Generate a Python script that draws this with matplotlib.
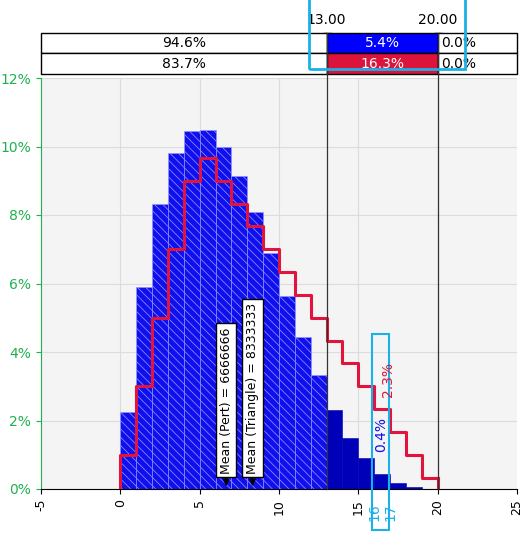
import matplotlib.pyplot as plt
import matplotlib.transforms as mtransforms
from matplotlib.patches import Rectangle

# histogram (Pert simulation), percent per unit bin, bins start at 0..19
bin_left = list(range(20))
pert_pct = [2.26, 5.89, 8.33, 9.81, 10.45, 10.48, 9.99, 9.15, 8.09, 6.88,
            5.64, 4.43, 3.32, 2.32, 1.50, 0.90, 0.44, 0.18, 0.05, 0.01]
# triangle distribution step line, percent per bin
tri_pct = [1.0, 3.0, 5.0, 7.0, 9.0, 9.67, 9.0, 8.33, 7.67, 7.0,
           6.33, 5.67, 5.0, 4.33, 3.67, 3.0, 2.33, 1.67, 1.0, 0.33]
lo_mark, hi_mark = 13, 20
pert_row = ["94.6%", "5.4%", "0.0%"]
tri_row = ["83.7%", "16.3%", "0.0%"]
mean_pert = 6.666666
mean_tri = 8.333333

plt.rcParams["hatch.linewidth"] = 0.5
fig = plt.figure(figsize=(5.29, 5.41), dpi=100)
ax = fig.add_axes([41 / 529, 52 / 541, 476 / 529, 411 / 541])
ax.set_facecolor("#f4f4f4")
ax.set_xlim(-5, 25)
ax.set_ylim(0, 12)

for x, h in zip(bin_left, pert_pct):
    if x < lo_mark:
        ax.bar(x, h, width=1, align="edge", color="#1010ee", edgecolor="#9a9aff",
               hatch="\\\\\\\\", linewidth=0.4, zorder=2)
    else:
        ax.bar(x, h, width=1, align="edge", color="#0000b8", edgecolor="#0000b8",
               linewidth=0.4, zorder=2)

xs = [bin_left[0]] + [b + 1 for b in bin_left]
ys = [0] + tri_pct
ax.step(xs, ys, where="pre", color="#e0143c", lw=2.2, zorder=3)
ax.plot([xs[-1], xs[-1]], [tri_pct[-1], 0], color="#e0143c", lw=2.2, zorder=3)

ax.set_xticks(range(-5, 26, 5))
ax.set_xticklabels([str(v) for v in range(-5, 26, 5)], rotation=90, fontsize=9)
ax.set_yticks(range(0, 13, 2))
ax.set_yticklabels([f"{v}%" for v in range(0, 13, 2)], color="#20b050", fontsize=10)
ax.grid(True, color="#dcdcdc", lw=0.8, zorder=0)
ax.set_axisbelow(True)
for s in ["top", "right"]:
    ax.spines[s].set_visible(False)
ax.spines["left"].set_color("#20b050")
ax.tick_params(axis="y", colors="#20b050", labelcolor="#20b050")

# mean annotations
for m, txt, top in [(mean_pert, f"Mean (Pert) = {int(mean_pert * 1e6)}", 4.6),
                    (mean_tri, f"Mean (Triangle) = {int(mean_tri * 1e6)}", 5.2)]:
    ax.annotate("", xy=(m, 0), xytext=(m, 0.45),
                arrowprops=dict(arrowstyle="-|>", color="black", lw=1), zorder=5)
    ax.text(m, 0.45, txt, rotation=90, ha="center", va="bottom", fontsize=9,
            bbox=dict(boxstyle="square,pad=0.3", fc="white", ec="black"), zorder=6)

# limit lines
trans = mtransforms.blended_transform_factory(ax.transData, ax.transAxes)
for m in (lo_mark, hi_mark):
    ax.plot([m, m], [0, 1.11], transform=trans, color="#333333", lw=0.9,
            clip_on=False, zorder=4)
    ax.plot(m, 1.1, marker="v", color="black", ms=6, transform=trans, clip_on=False)
ax.text(lo_mark, 1.125, f"{lo_mark:.2f}", transform=trans, ha="center", va="bottom", fontsize=10)
ax.text(hi_mark, 1.125, f"{hi_mark:.2f}", transform=trans, ha="center", va="bottom", fontsize=10)

# top table
rows = [(1.0608, 1.1095, pert_row, "#0000ff"), (1.0097, 1.0608, tri_row, "#dc143c")]
cols = [(-5, lo_mark), (lo_mark, hi_mark), (hi_mark, 25)]
for y0, y1, vals, mid_color in rows:
    for i, ((x0, x1), v) in enumerate(zip(cols, vals)):
        fc = mid_color if i == 1 else "white"
        ax.add_patch(Rectangle((x0, y0), x1 - x0, y1 - y0, transform=trans, fc=fc,
                               ec="black", lw=1, clip_on=False, zorder=3))
        if i == 2:
            ax.text(x0 + 0.2, (y0 + y1) / 2, v, transform=trans, ha="left", va="center",
                    fontsize=10, zorder=5)
        else:
            ax.text((x0 + x1) / 2, (y0 + y1) / 2, v, transform=trans, ha="center",
                    va="center", fontsize=10, color="white" if i == 1 else "black", zorder=5)

# highlight boxes
ax.add_patch(Rectangle((11.9, 1.0215), 9.8, 0.1756, transform=trans, fill=False,
                       ec="#1ab0e8", lw=2, clip_on=False, zorder=6))
ax.add_patch(Rectangle((15.85, -0.10), 1.1, 0.477, transform=trans, fill=False,
                       ec="#1ab0e8", lw=1.5, clip_on=False, zorder=6))
ax.text(16, -0.035, "16", transform=trans, rotation=90, ha="center", va="top",
        color="#1ab0e8", fontsize=10)
ax.text(17, -0.035, "17", transform=trans, rotation=90, ha="center", va="top",
        color="#1ab0e8", fontsize=10)
ax.text(16.45, 1.6, f"{pert_pct[16]:.1f}%", rotation=90, ha="center", va="center",
        color="#1010ee", fontsize=10, zorder=6)
ax.text(16.9, 3.2, f"{tri_pct[16]:.1f}%", rotation=90, ha="center", va="center",
        color="#e0143c", fontsize=10, zorder=6)

fig.savefig("out.png", dpi=100)
